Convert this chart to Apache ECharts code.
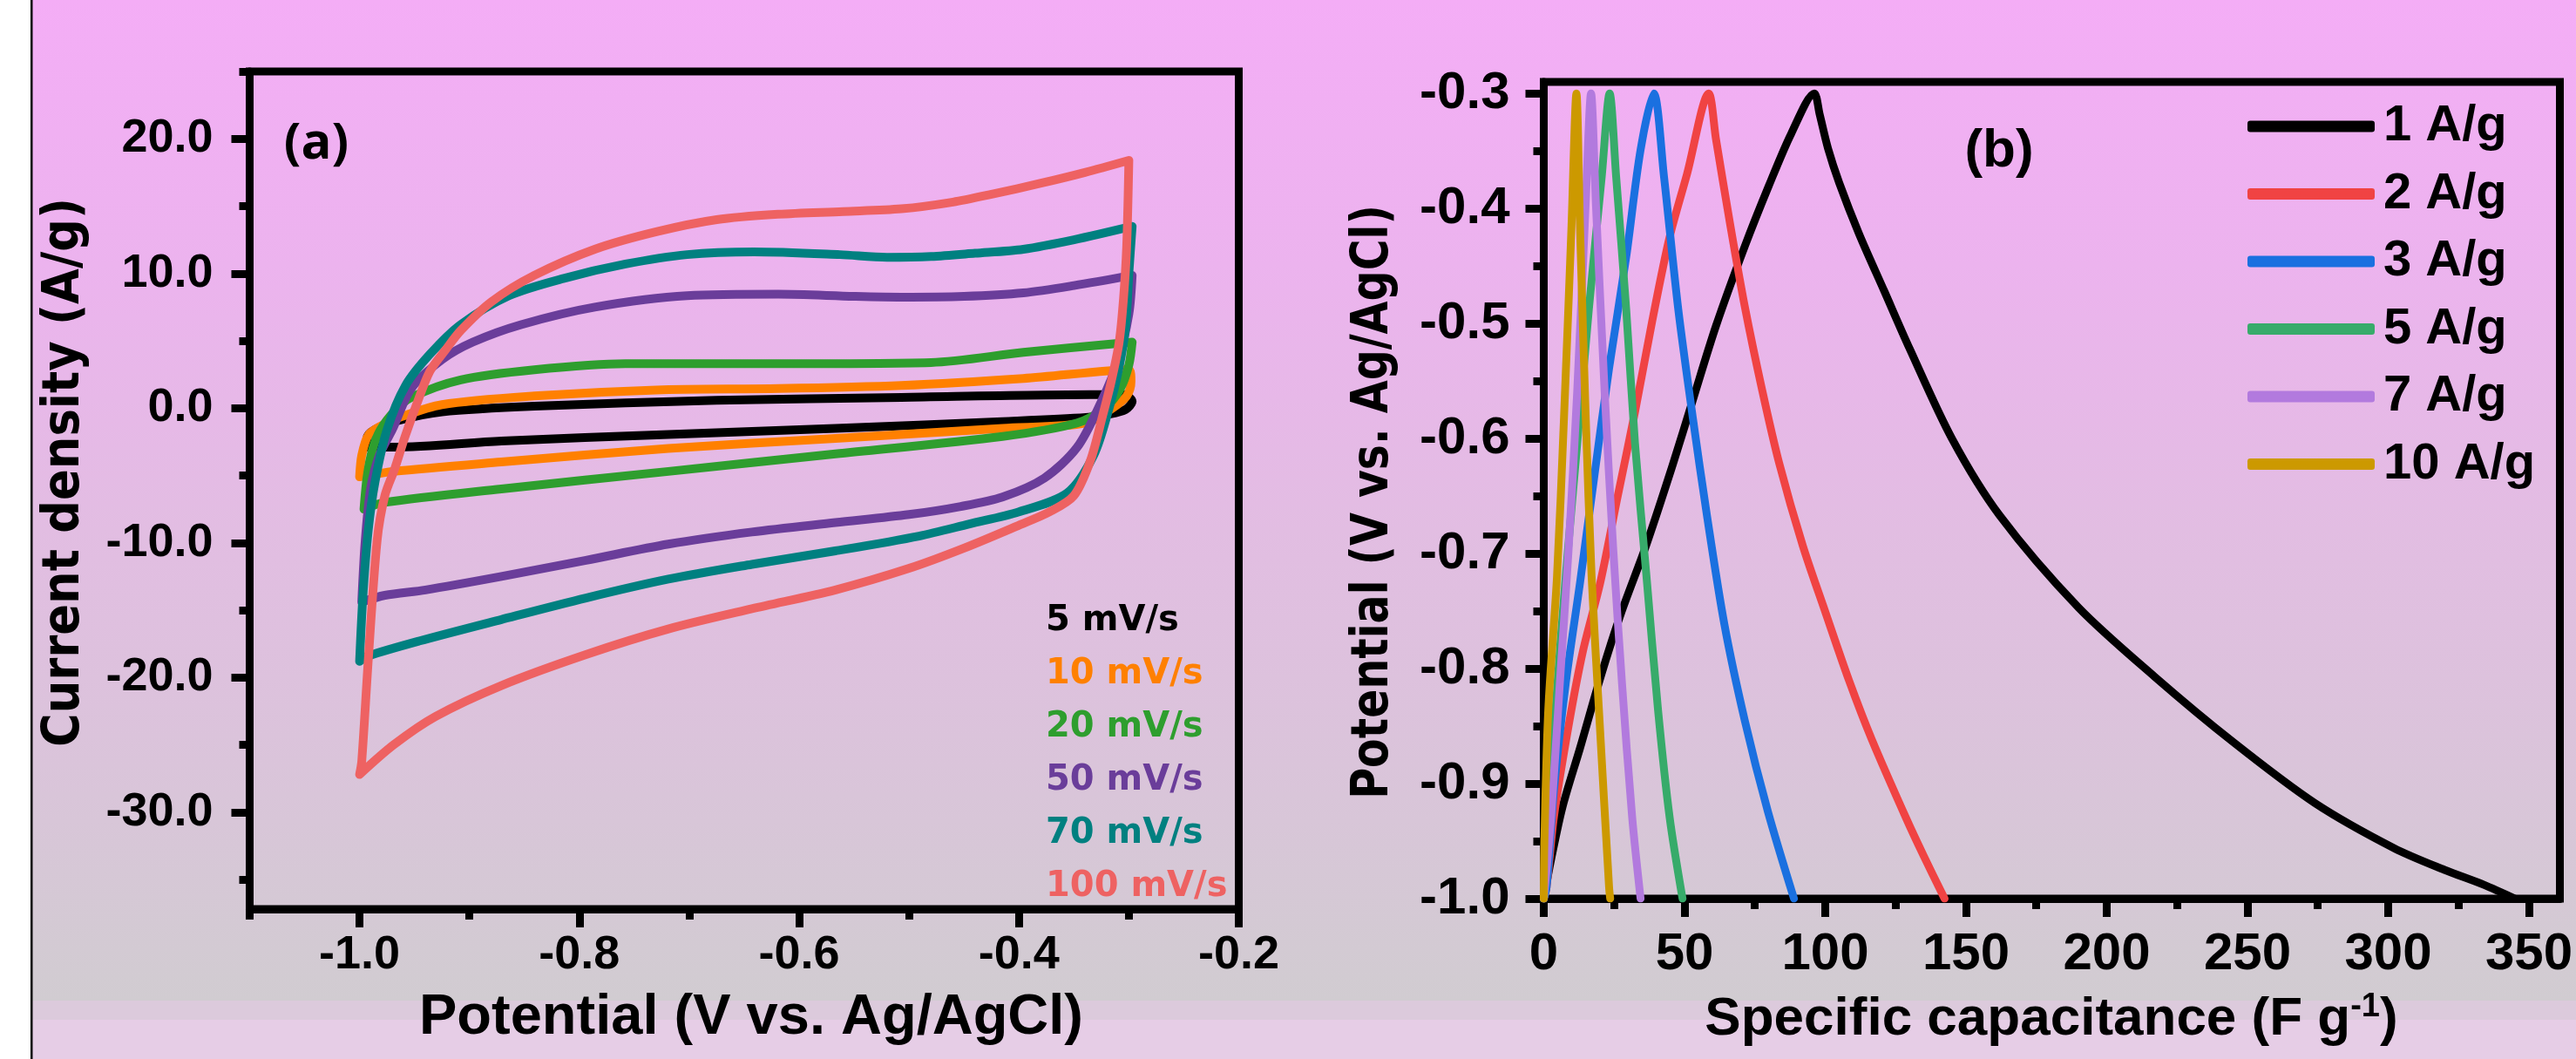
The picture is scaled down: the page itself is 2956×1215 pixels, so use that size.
<!DOCTYPE html>
<html>

<head>
    <meta charset="UTF-8">
    <title>CV and GCD</title>
    <script src="https://cdn.jsdelivr.net/npm/echarts@6/dist/echarts.min.js"></script>
    <style>
        html, body { margin: 0; padding: 0; }
    </style>
</head>

<body>
    <div id="chart" style="width: 2956px; height: 1215px;"></div>
    <script>
        // (a) cyclic voltammetry, [potential V, current density A/g], loop starts bottom-left
        var cv5 = [[-0.992, -2.9], [-0.993, -2.2], [-0.986, -1.6], [-0.964, -0.9], [-0.925, -0.27], [-0.841, 0.15], [-0.675, 0.58], [-0.507, 0.8], [-0.335, 1.0], [-0.305, 1.0], [-0.297, 0.5], [-0.303, -0.1], [-0.318, -0.45], [-0.339, -0.7], [-0.415, -1.0], [-0.567, -1.5], [-0.719, -1.95], [-0.871, -2.45], [-0.969, -2.9], [-0.992, -2.9]];
        var cv10 = [[-1.0, -5.1], [-0.998, -3.5], [-0.992, -2.0], [-0.980, -1.3], [-0.964, -0.7], [-0.925, 0.26], [-0.841, 0.9], [-0.730, 1.35], [-0.619, 1.45], [-0.507, 1.68], [-0.396, 2.2], [-0.300, 2.85], [-0.298, 2.0], [-0.302, 0.9], [-0.315, 0.0], [-0.339, -1.1], [-0.415, -1.5], [-0.567, -2.25], [-0.719, -3.0], [-0.871, -4.0], [-0.969, -4.7], [-1.0, -5.1]];
        var cv20 = [[-0.996, -7.5], [-0.993, -5.0], [-0.988, -3.0], [-0.981, -1.6], [-0.968, -0.2], [-0.953, 0.8], [-0.908, 2.1], [-0.841, 2.85], [-0.758, 3.3], [-0.619, 3.3], [-0.480, 3.39], [-0.396, 4.14], [-0.297, 4.9], [-0.300, 3.2], [-0.308, 1.4], [-0.322, 0.0], [-0.347, -1.1], [-0.415, -2.1], [-0.567, -3.4], [-0.719, -4.7], [-0.871, -6.0], [-0.977, -7.0], [-0.996, -7.5]];
        var cv50 = [[-0.998, -14.4], [-0.995, -10.0], [-0.990, -6.0], [-0.982, -3.5], [-0.970, -1.56], [-0.953, 1.45], [-0.925, 3.6], [-0.897, 4.9], [-0.853, 6.2], [-0.786, 7.5], [-0.702, 8.35], [-0.619, 8.46], [-0.550, 8.3], [-0.507, 8.24], [-0.450, 8.3], [-0.396, 8.56], [-0.350, 9.1], [-0.297, 9.86], [-0.300, 7.0], [-0.310, 3.5], [-0.325, 0.5], [-0.347, -2.9], [-0.377, -5.2], [-0.415, -6.6], [-0.453, -7.3], [-0.500, -7.9], [-0.567, -8.5], [-0.643, -9.2], [-0.719, -10.1], [-0.794, -11.3], [-0.871, -12.5], [-0.940, -13.5], [-0.977, -13.9], [-0.998, -14.4]];
        var cv70 = [[-1.0, -18.8], [-0.997, -14.0], [-0.992, -9.0], [-0.986, -5.5], [-0.975, -1.6], [-0.958, 1.7], [-0.936, 4.0], [-0.908, 6.2], [-0.864, 8.35], [-0.814, 9.64], [-0.758, 10.7], [-0.702, 11.4], [-0.641, 11.6], [-0.563, 11.4], [-0.520, 11.2], [-0.480, 11.26], [-0.440, 11.5], [-0.396, 11.8], [-0.350, 12.5], [-0.297, 13.5], [-0.300, 10.0], [-0.303, 6.0], [-0.309, 3.0], [-0.318, 0.0], [-0.332, -3.5], [-0.356, -6.3], [-0.400, -7.7], [-0.445, -8.6], [-0.491, -9.5], [-0.567, -10.6], [-0.643, -11.6], [-0.719, -12.7], [-0.794, -14.1], [-0.871, -15.7], [-0.946, -17.3], [-0.992, -18.4], [-1.0, -18.8]];
        var cv100 = [[-1.0, -27.2], [-0.998, -26.2], [-0.992, -18.6], [-0.984, -9.8], [-0.977, -6.5], [-0.968, -4.5], [-0.959, -2.2], [-0.948, 0.3], [-0.936, 2.74], [-0.922, 4.3], [-0.908, 5.76], [-0.880, 7.9], [-0.841, 9.86], [-0.786, 11.8], [-0.730, 13.1], [-0.675, 14.0], [-0.619, 14.4], [-0.560, 14.6], [-0.507, 14.8], [-0.460, 15.3], [-0.424, 15.9], [-0.380, 16.7], [-0.340, 17.5], [-0.300, 18.4], [-0.302, 12.0], [-0.305, 8.0], [-0.309, 4.8], [-0.316, 2.0], [-0.324, -0.6], [-0.335, -3.9], [-0.350, -6.5], [-0.372, -7.7], [-0.400, -8.7], [-0.450, -10.4], [-0.500, -11.9], [-0.567, -13.5], [-0.643, -14.9], [-0.719, -16.4], [-0.794, -18.3], [-0.871, -20.6], [-0.931, -22.9], [-0.969, -25.0], [-1.0, -27.2]];
        var cvNames = ['5 mV/s', '10 mV/s', '20 mV/s', '50 mV/s', '70 mV/s', '100 mV/s'];
        var cvColors = ['#000000', '#ff8000', '#2e9e2e', '#6a3d9a', '#008080', '#ee6262'];

        // (b) charge-discharge, [specific capacitance F/g, potential V]
        var gcd1 = [[0, -1.0], [2.6, -0.966], [6.7, -0.92], [12.9, -0.869], [20.1, -0.808], [27.3, -0.753], [36.5, -0.692], [45.8, -0.623], [52.9, -0.567], [61.2, -0.502], [71.4, -0.433], [80, -0.38], [87.9, -0.335], [96.1, -0.30], [98, -0.318], [101, -0.348], [105, -0.378], [112, -0.422], [121, -0.472], [130, -0.522], [145, -0.600], [162, -0.667], [190, -0.747], [217, -0.807], [245, -0.864], [274, -0.917], [302, -0.956], [320, -0.975], [334, -0.988], [345, -1.0]];
        var gcd2 = [[0, -1.0], [1, -0.99], [3.6, -0.929], [8.8, -0.85], [13.9, -0.785], [20.1, -0.725], [26.2, -0.651], [32.4, -0.577], [38.6, -0.497], [44.7, -0.425], [50.9, -0.37], [58.6, -0.30], [61.2, -0.34], [66.3, -0.415], [71.4, -0.485], [77.6, -0.558], [83.7, -0.622], [92, -0.693], [100.2, -0.752], [108.4, -0.81], [116.6, -0.862], [128.9, -0.931], [135, -0.963], [142.4, -1.0]];
        var gcd3 = [[0, -1.0], [1, -0.99], [3.6, -0.906], [7.8, -0.813], [12.9, -0.725], [18, -0.632], [23.2, -0.539], [29.3, -0.442], [34.4, -0.349], [39.1, -0.30], [42.7, -0.372], [47.8, -0.488], [52.9, -0.581], [58.1, -0.669], [64.2, -0.762], [71.4, -0.845], [79.6, -0.924], [88.9, -1.0]];
        var gcd5 = [[0, -1.0], [1.6, -0.952], [4.2, -0.836], [7.8, -0.72], [11.9, -0.604], [16, -0.488], [20.6, -0.372], [23.4, -0.30], [25.7, -0.372], [29.3, -0.488], [32.4, -0.604], [36.5, -0.72], [40.6, -0.836], [44.7, -0.929], [49.3, -1.0]];
        var gcd7 = [[0, -1.0], [2.6, -0.929], [5.7, -0.813], [8.8, -0.697], [11.9, -0.558], [14.9, -0.395], [16.8, -0.30], [18.5, -0.395], [21.6, -0.558], [24.7, -0.697], [27.8, -0.813], [31.4, -0.929], [34.4, -1.0]];
        var gcd10 = [[0, -1.0], [0.2, -0.952], [1.6, -0.836], [4.7, -0.72], [7.2, -0.581], [9.8, -0.419], [11.6, -0.30], [12.9, -0.419], [14.9, -0.581], [17, -0.72], [19.6, -0.836], [23.2, -0.99], [23.6, -1.0]];
        var gcdNames = ['1 A/g', '2 A/g', '3 A/g', '5 A/g', '7 A/g', '10 A/g'];
        var gcdColors = ['#000000', '#f04343', '#1a70e0', '#37ab6a', '#b27ade', '#cc9900'];

        // tick positions
        var cvXMajor = [-1.0, -0.8, -0.6, -0.4, -0.2];
        var cvXMinor = [-1.1, -0.9, -0.7, -0.5, -0.3];
        var cvYMajor = [-30, -20, -10, 0, 10, 20];
        var cvYMinor = [-35, -25, -15, -5, 5, 15, 25];
        var gcdXMajor = [0, 50, 100, 150, 200, 250, 300, 350];
        var gcdXMinor = [25, 75, 125, 175, 225, 275, 325];
        var gcdYMajor = [-1.0, -0.9, -0.8, -0.7, -0.6, -0.5, -0.4, -0.3];
        var gcdYMinor = [-0.95, -0.85, -0.75, -0.65, -0.55, -0.45, -0.35];

        var arial = '"Liberation Sans", Arial, sans-serif';
        var verdana = '"DejaVu Sans", Verdana, sans-serif';

        function axis(grid, min, max, ticks, len, labels, fmt, size, margin, pos) {
            return {
                type: 'value', gridIndex: grid, min: min, max: max, position: pos,
                axisLine: { show: !!labels, onZero: false, lineStyle: { color: '#000', width: 9 } },
                axisTick: { show: true, customValues: ticks, length: len, lineStyle: { color: '#000', width: 9 } },
                axisLabel: labels ? {
                    customValues: ticks, formatter: fmt, margin: margin, color: '#000',
                    fontFamily: arial, fontWeight: 'bold', fontSize: size
                } : { show: false },
                splitLine: { show: false }
            };
        }
        var f1 = function (v) { return v.toFixed(1); };
        var f0 = function (v) { return Math.round(v) + ''; };

        var series = [];
        [cv5, cv10, cv20, cv50, cv70, cv100].forEach(function (d, i) {
            series.push({
                name: cvNames[i], type: 'line', xAxisIndex: 0, yAxisIndex: 0, data: d,
                symbol: 'none', smooth: 0.3, color: cvColors[i], animation: false,
                lineStyle: { width: 10, color: cvColors[i], join: 'round', cap: 'round' }
            });
        });
        [gcd1, gcd2, gcd3, gcd5, gcd7, gcd10].forEach(function (d, i) {
            series.push({
                name: gcdNames[i], type: 'line', xAxisIndex: 2, yAxisIndex: 2, data: d,
                symbol: 'none', smooth: 0.3, color: gcdColors[i], animation: false,
                lineStyle: { width: 9, color: gcdColors[i], join: 'round', cap: 'round' }
            });
        });

        var chart = echarts.init(document.getElementById('chart'), null, { renderer: 'canvas' });
        chart.setOption({
            animation: false,
            backgroundColor: new echarts.graphic.LinearGradient(0, 0, 0, 1, [
                { offset: 0, color: '#f4adf6' },
                { offset: 0.25, color: '#ecb3ee' },
                { offset: 0.5, color: '#e2bde2' },
                { offset: 0.75, color: '#d9c5d9' },
                { offset: 0.945, color: '#d1ccd1' },
                { offset: 0.945, color: '#dccadc' },
                { offset: 0.963, color: '#dccadc' },
                { offset: 0.963, color: '#e6cde6' },
                { offset: 1, color: '#e6cde6' }
            ], false),
            grid: [
                { left: 286.5, top: 82, width: 1135, height: 961, show: true, borderColor: '#000', borderWidth: 9, outerBoundsMode: 'none' },
                { left: 1771.5, top: 94, width: 1166, height: 937, show: true, borderColor: '#000', borderWidth: 9, outerBoundsMode: 'none' }
            ],
            xAxis: [
                axis(0, -1.1, -0.2, cvXMajor, 21, true, f1, 54, 26, 'bottom'),
                axis(0, -1.1, -0.2, cvXMinor, 12, false, null, 0, 0, 'bottom'),
                axis(1, 0, 361, gcdXMajor, 21, true, f0, 60, 34, 'bottom'),
                axis(1, 0, 361, gcdXMinor, 12, false, null, 0, 0, 'bottom')
            ],
            yAxis: [
                axis(0, -37.2, 25, cvYMajor, 21, true, f1, 54, 42, 'left'),
                axis(0, -37.2, 25, cvYMinor, 12, false, null, 0, 0, 'left'),
                axis(1, -1.0, -0.29, gcdYMajor, 21, true, f1, 60, 39, 'left'),
                axis(1, -1.0, -0.29, gcdYMinor, 12, false, null, 0, 0, 'left')
            ],
            legend: [
                {
                    data: cvNames.map(function (n, i) { return { name: n, textStyle: { color: cvColors[i] } }; }),
                    orient: 'vertical', left: 1190, top: 688, itemGap: 21,
                    icon: 'rect', itemWidth: 0, itemHeight: 0, selectedMode: false,
                    textStyle: { fontFamily: verdana, fontWeight: 'bold', fontSize: 40, lineHeight: 40 }
                },
                {
                    data: gcdNames, orient: 'vertical', left: 2574, top: 111, itemGap: 19.5,
                    icon: 'roundRect', itemWidth: 146, itemHeight: 13, selectedMode: false,
                    textStyle: { fontFamily: arial, fontWeight: 'bold', fontSize: 58, lineHeight: 58, color: '#000', padding: [0, 0, 0, 5] }
                }
            ],
            graphic: [
                { type: 'rect', shape: { x: 0, y: 0, width: 35, height: 1215 }, style: { fill: '#ffffff' }, silent: true },
                { type: 'rect', shape: { x: 35, y: 0, width: 2.5, height: 1215 }, style: { fill: '#000000' }, silent: true },
                {
                    type: 'text', x: 75, y: 542, rotation: Math.PI / 2, scaleX: 0.91,
                    style: { text: 'Current density (A/g)', font: 'bold 58px ' + verdana, fill: '#000', textAlign: 'center', textVerticalAlign: 'middle' }
                },
                {
                    type: 'text', x: 1577, y: 576, rotation: Math.PI / 2, scaleX: 0.845,
                    style: { text: 'Potential (V vs. Ag/AgCl)', font: 'bold 58px ' + verdana, fill: '#000', textAlign: 'center', textVerticalAlign: 'middle' }
                },
                {
                    type: 'text', x: 862, y: 1168,
                    style: { text: 'Potential (V vs. Ag/AgCl)', font: 'bold 65px ' + arial, fill: '#000', textAlign: 'center', textVerticalAlign: 'middle' }
                },
                {
                    type: 'text', x: 2354, y: 1170,
                    style: {
                        text: '{n|Specific capacitance (F g}{s|-1}{n|)}', textAlign: 'center', textVerticalAlign: 'middle',
                        rich: {
                            n: { fontFamily: arial, fontWeight: 'bold', fontSize: 62, lineHeight: 66, fill: '#000', color: '#000' },
                            s: { fontFamily: arial, fontWeight: 'bold', fontSize: 38, lineHeight: 38, verticalAlign: 'top', fill: '#000', color: '#000' }
                        }
                    }
                },
                {
                    type: 'text', x: 363, y: 165,
                    style: { text: '(a)', font: 'bold 58px "Open Sans", sans-serif', fill: '#000', textAlign: 'center', textVerticalAlign: 'middle' }
                },
                {
                    type: 'text', x: 2294, y: 174,
                    style: { text: '(b)', font: 'bold 62px ' + arial, fill: '#000', textAlign: 'center', textVerticalAlign: 'middle' }
                }
            ],
            series: series
        });
    </script>
</body>

</html>
